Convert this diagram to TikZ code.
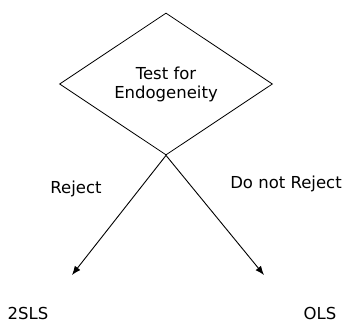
\documentclass[tikz,border=0pt]{standalone}
\usepackage{fontspec}
\setmainfont{DejaVu Sans}
\usetikzlibrary{shapes.geometric}
\usetikzlibrary{arrows.meta}

\begin{document}
\begin{tikzpicture}[x=1pt,y=-1pt,
    lbl/.style={font=\fontsize{16.5}{19}\selectfont, inner sep=0pt},
    branch/.style={-{Latex[length=9pt,width=7pt]}, line width=0.9pt}]
  \useasboundingbox (0,0) rectangle (347,325);
  %\draw[very thin,color=gray] (0,0) grid[step=20pt] (347,325);
  \node[draw, diamond, line width=0.8pt, minimum width=213pt, minimum height=142pt,
        inner sep=0pt, lbl, align=center] (test) at (166,84) {Test for\\Endogeneity};

  \coordinate (leftend) at (72,275);
  \coordinate (rightend) at (264,275);
  \draw[branch] (test.south) -- (leftend);
  \draw[branch] (test.south) -- (rightend);

  \node[lbl, anchor=base] (reject) at (76,193) {Reject};
  \node[lbl, anchor=base] (noreject) at (286,188) {Do not Reject};
  %leaves
  \node[lbl, anchor=base] (tsls) at (28,319) {2SLS};
  \node[lbl, anchor=base] (ols) at (320,319) {OLS};
\end{tikzpicture}
\end{document}
